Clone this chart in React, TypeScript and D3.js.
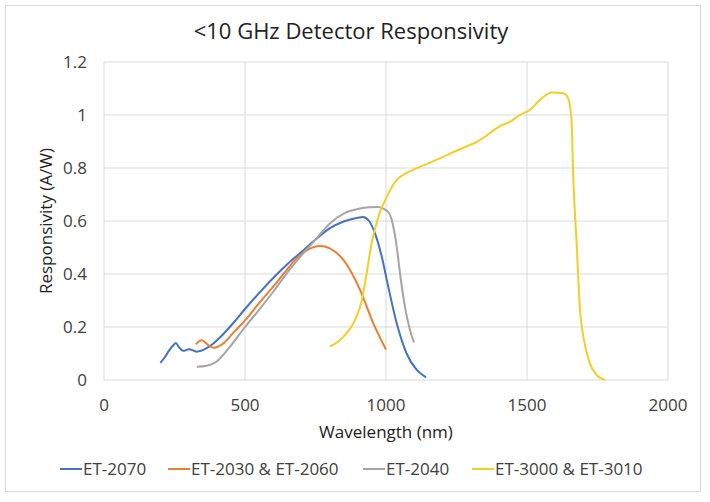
import React from "react";
import * as d3 from "d3";

const W = 710;
const H = 502;

const xTicks = [0, 500, 1000, 1500, 2000];
const yTicks = [0, 0.2, 0.4, 0.6, 0.8, 1, 1.2];

const et2070Wl = [200, 215, 230, 245, 255, 265, 281, 301, 329, 364, 390, 420, 460, 500, 550, 600, 650, 700, 750, 800, 850, 900, 918, 940, 961, 985, 1008, 1038, 1073, 1109, 1142];
const et2070R = [0.065, 0.085, 0.11, 0.13, 0.14, 0.125, 0.11, 0.116, 0.107, 0.12, 0.14, 0.17, 0.217, 0.268, 0.328, 0.385, 0.437, 0.483, 0.53, 0.572, 0.598, 0.612, 0.615, 0.6, 0.553, 0.465, 0.352, 0.214, 0.1, 0.038, 0.01];

const et2030Wl = [326, 346, 370, 388, 423, 460, 501, 550, 600, 640, 683, 720, 766, 801, 849, 908, 955, 1000];
const et2030R = [0.135, 0.15, 0.132, 0.122, 0.138, 0.18, 0.226, 0.29, 0.352, 0.405, 0.459, 0.49, 0.506, 0.497, 0.453, 0.34, 0.214, 0.115];

const et2040Wl = [329, 364, 400, 447, 500, 550, 600, 650, 700, 750, 800, 850, 900, 940, 970, 996, 1014, 1026, 1038, 1050, 1067, 1085, 1099];
const et2040R = [0.05, 0.054, 0.07, 0.126, 0.2, 0.265, 0.333, 0.405, 0.47, 0.53, 0.59, 0.628, 0.645, 0.652, 0.653, 0.644, 0.623, 0.578, 0.503, 0.4, 0.277, 0.189, 0.142];

const et3000Wl = [801, 849, 890, 914, 931, 949, 973, 1002, 1038, 1070, 1100, 1156, 1250, 1333, 1404, 1440, 1475, 1511, 1546, 1588, 1629, 1646, 1658, 1664, 1676, 1688, 1700, 1723, 1747, 1777];
const et3000R = [0.126, 0.163, 0.226, 0.3, 0.4, 0.516, 0.616, 0.69, 0.755, 0.78, 0.795, 0.82, 0.865, 0.905, 0.958, 0.975, 1.0, 1.02, 1.057, 1.085, 1.082, 1.063, 0.98, 0.767, 0.516, 0.264, 0.163, 0.063, 0.019, 0.0];

const seriesNames = ["ET-2070", "ET-2030 & ET-2060", "ET-2040", "ET-3000 & ET-3010"];
const seriesColors = ["#4472C4", "#ED7D31", "#A5A5A5", "#F2CE2A"];

const FONT = "'Open Sans', 'Liberation Sans', sans-serif";

export default function App() {
  const plot = { left: 104, right: 668, top: 62, bottom: 380 };
  const x = d3.scaleLinear().domain([0, 2000]).range([plot.left, plot.right]);
  const y = d3.scaleLinear().domain([0, 1.2]).range([plot.bottom, plot.top]);

  const series = [
    { wl: et2070Wl, r: et2070R },
    { wl: et2030Wl, r: et2030R },
    { wl: et2040Wl, r: et2040R },
    { wl: et3000Wl, r: et3000R },
  ];

  const line = d3
    .line<[number, number]>()
    .x((d) => x(d[0]))
    .y((d) => y(d[1]))
    .curve(d3.curveMonotoneX);

  const legendX = [60, 168, 363, 472];
  const legendY = 469;

  return (
    <svg
      width={W}
      height={H}
      style={{ position: "absolute", left: 0, top: 0, background: "#fff" }}
      fontFamily={FONT}
    >
      <rect x={0} y={0} width={W} height={H} fill="#fff" />
      <rect x={5.5} y={5.5} width={695} height={486} fill="#fff" stroke="#d9d9d9" />
      <text x={351} y={31} dy="0.35em" textAnchor="middle" fontSize={22} fill="#222">
        {"<10 GHz Detector Responsivity"}
      </text>
      {yTicks.map((t) => (
        <g key={"y" + t}>
          <line x1={plot.left} x2={plot.right} y1={y(t)} y2={y(t)} stroke="#d9d9d9" strokeWidth={1} />
          <text x={87} y={y(t)} dy="0.35em" textAnchor="end" fontSize={17} fill="#404040">
            {d3.format("~g")(t)}
          </text>
        </g>
      ))}
      {xTicks.map((t) => (
        <g key={"x" + t}>
          <line x1={x(t)} x2={x(t)} y1={plot.top} y2={plot.bottom} stroke="#d9d9d9" strokeWidth={1} />
          <text x={x(t)} y={405} dy="0.35em" textAnchor="middle" fontSize={17} fill="#404040">
            {t}
          </text>
        </g>
      ))}
      {series.map((s, i) => (
        <path
          key={i}
          d={line(s.wl.map((w, j) => [w, s.r[j]] as [number, number])) || ""}
          fill="none"
          stroke={seriesColors[i]}
          strokeWidth={2}
          strokeLinejoin="round"
        />
      ))}
      <text x={386} y={432} dy="0.35em" textAnchor="middle" fontSize={17} fill="#222">
        Wavelength (nm)
      </text>
      <text
        transform={`translate(46, ${(plot.top + plot.bottom) / 2}) rotate(-90)`}
        textAnchor="middle"
        dy="0.35em"
        fontSize={17}
        fill="#222"
      >
        Responsivity (A/W)
      </text>
      {seriesNames.map((n, i) => (
        <g key={n}>
          <line x1={legendX[i]} x2={legendX[i] + 22} y1={legendY} y2={legendY} stroke={seriesColors[i]} strokeWidth={2} />
          <text x={legendX[i] + 23} y={legendY} dy="0.35em" fontSize={17} fill="#404040">
            {n}
          </text>
        </g>
      ))}
    </svg>
  );
}
